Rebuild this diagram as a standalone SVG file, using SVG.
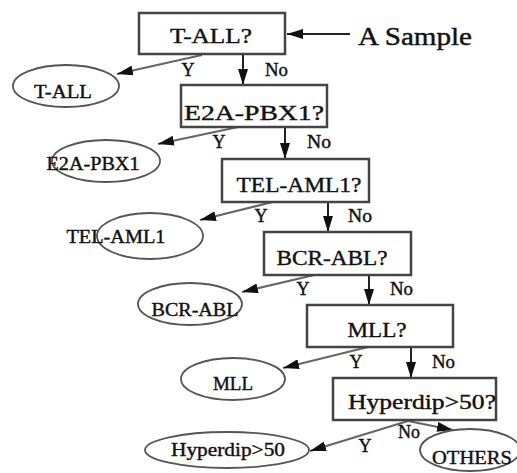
<svg xmlns="http://www.w3.org/2000/svg" width="517" height="473" viewBox="0 0 517 473">
<defs>
<marker id="ah" viewBox="0 0 16 10" refX="16" refY="5" markerWidth="16" markerHeight="10" markerUnits="userSpaceOnUse" orient="auto">
<path d="M0,0 L16,5 L0,10 Z" fill="#111"/>
</marker>
<style>
.box{fill:#fff;stroke:#444;stroke-width:2.5}
.ell{fill:#fff;stroke:#555;stroke-width:1.8}
text{fill:#111;stroke:#111;stroke-width:0.4}
.bl{font-size:21px;text-anchor:middle}
.el{font-size:19px;text-anchor:middle}
.lb{font-size:18px}
.ey{stroke:#666;stroke-width:2.2;fill:none}
.en{stroke:#222;stroke-width:2;fill:none}
</style>
</defs>
<g font-family="'Liberation Serif', 'Times New Roman', serif">
<g id="connectors">
<line class="en" x1="350" y1="34" x2="287" y2="34" marker-end="url(#ah)"/>
<line class="ey" x1="202" y1="55" x2="117" y2="74" marker-end="url(#ah)"/>
<line class="en" x1="243" y1="54" x2="243" y2="85" marker-end="url(#ah)"/>
<line class="ey" x1="243" y1="126" x2="158" y2="144" marker-end="url(#ah)"/>
<line class="en" x1="285" y1="128" x2="285" y2="159" marker-end="url(#ah)"/>
<line class="ey" x1="285" y1="199" x2="200" y2="220" marker-end="url(#ah)"/>
<line class="en" x1="328" y1="202" x2="328" y2="232" marker-end="url(#ah)"/>
<line class="ey" x1="327" y1="272" x2="242" y2="292" marker-end="url(#ah)"/>
<line class="en" x1="369" y1="275" x2="369" y2="305" marker-end="url(#ah)"/>
<line class="ey" x1="368" y1="347" x2="283" y2="368" marker-end="url(#ah)"/>
<line class="en" x1="411" y1="347" x2="411" y2="378" marker-end="url(#ah)"/>
<line class="ey" x1="408" y1="421" x2="310" y2="451" marker-end="url(#ah)"/>
<line class="ey" x1="408" y1="421" x2="453" y2="430" marker-end="url(#ah)"/>
<text class="lb" x="188" y="76" text-anchor="middle">Y</text>
<text class="lb" x="265" y="76" textLength="23" lengthAdjust="spacingAndGlyphs">No</text>
<text class="lb" x="219" y="148" text-anchor="middle">Y</text>
<text class="lb" x="307" y="148" textLength="24" lengthAdjust="spacingAndGlyphs">No</text>
<text class="lb" x="261" y="222" text-anchor="middle">Y</text>
<text class="lb" x="348" y="222" textLength="24" lengthAdjust="spacingAndGlyphs">No</text>
<text class="lb" x="303" y="295" text-anchor="middle">Y</text>
<text class="lb" x="390" y="295" textLength="23" lengthAdjust="spacingAndGlyphs">No</text>
<text class="lb" x="356" y="368" text-anchor="middle">Y</text>
<text class="lb" x="432" y="368" textLength="23" lengthAdjust="spacingAndGlyphs">No</text>
<text class="lb" x="365" y="452" text-anchor="middle">Y</text>
<text class="lb" x="398" y="438" textLength="22" lengthAdjust="spacingAndGlyphs">No</text>
</g>
<g id="sample"><text x="358" y="45" font-size="25" textLength="114" lengthAdjust="spacingAndGlyphs">A Sample</text></g>
<g id="q-tall"><rect class="box" x="139" y="13" width="146" height="41"/><text class="bl" x="211" y="43" textLength="82" lengthAdjust="spacingAndGlyphs">T-ALL?</text></g>
<g id="q-e2a"><rect class="box" x="181" y="85" width="146" height="42"/><text class="bl" x="254" y="120" textLength="140" lengthAdjust="spacingAndGlyphs">E2A-PBX1?</text></g>
<g id="q-tel"><rect class="box" x="222" y="159" width="147" height="43"/><text class="bl" x="299" y="192" textLength="125" lengthAdjust="spacingAndGlyphs">TEL-AML1?</text></g>
<g id="q-bcr"><rect class="box" x="264" y="232" width="147" height="43"/><text class="bl" x="332" y="265" textLength="111" lengthAdjust="spacingAndGlyphs">BCR-ABL?</text></g>
<g id="q-mll"><rect class="box" x="307" y="305" width="146" height="42"/><text class="bl" x="377" y="337" textLength="59" lengthAdjust="spacingAndGlyphs">MLL?</text></g>
<g id="q-hyp"><rect class="box" x="333" y="378" width="163" height="42"/><text class="bl" x="422" y="409" textLength="148" lengthAdjust="spacingAndGlyphs">Hyperdip&gt;50?</text></g>
<g id="r-tall"><ellipse class="ell" cx="66" cy="86" rx="53" ry="21"/><text class="el" x="63" y="98" textLength="58" lengthAdjust="spacingAndGlyphs">T-ALL</text></g>
<g id="r-e2a"><ellipse class="ell" cx="106" cy="161" rx="54" ry="21"/><text class="el" x="93" y="170" textLength="93" lengthAdjust="spacingAndGlyphs">E2A-PBX1</text></g>
<g id="r-tel"><ellipse class="ell" cx="150" cy="236" rx="53" ry="23"/><text class="el" x="116" y="243" textLength="99" lengthAdjust="spacingAndGlyphs">TEL-AML1</text></g>
<g id="r-bcr"><ellipse class="ell" cx="190" cy="304" rx="52" ry="21"/><text class="el" x="195" y="316" textLength="87" lengthAdjust="spacingAndGlyphs">BCR-ABL</text></g>
<g id="r-mll"><ellipse class="ell" cx="233" cy="379" rx="52" ry="21"/><text class="el" x="233" y="390" textLength="40" lengthAdjust="spacingAndGlyphs">MLL</text></g>
<g id="r-hyp"><ellipse class="ell" cx="227" cy="450" rx="82" ry="18"/><text class="el" x="228" y="456" textLength="114" lengthAdjust="spacingAndGlyphs">Hyperdip&gt;50</text></g>
<g id="r-oth"><ellipse class="ell" cx="470" cy="450" rx="50" ry="21"/><text class="el" x="472" y="464" textLength="80" lengthAdjust="spacingAndGlyphs">OTHERS</text></g>
</g>
</svg>
